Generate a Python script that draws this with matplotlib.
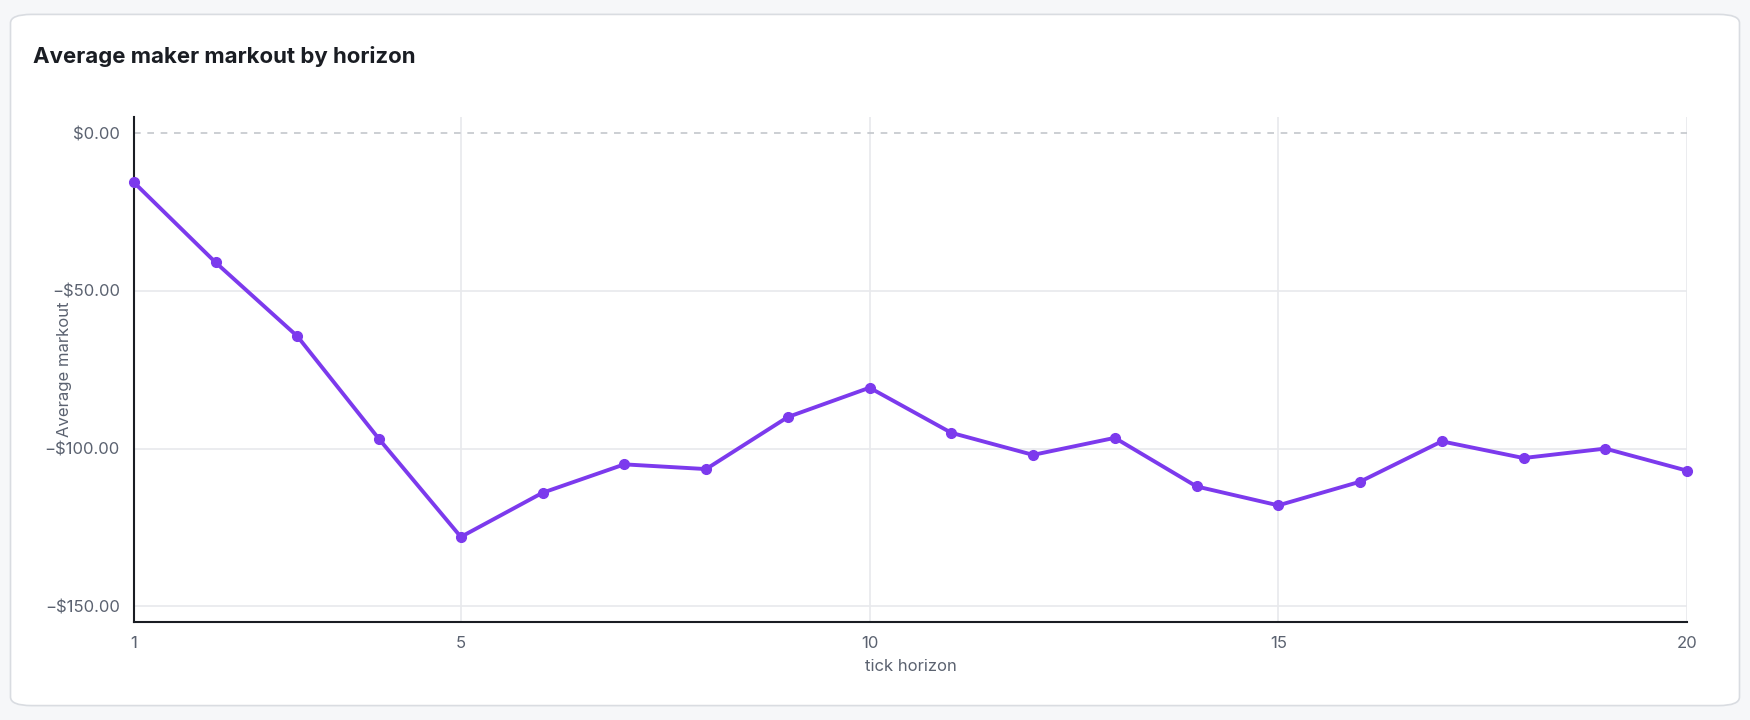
import matplotlib
matplotlib.use("Agg")
import matplotlib.pyplot as plt
from matplotlib.patches import FancyBboxPatch

horizons = list(range(1, 21))
markout = [-15.6, -41, -64.4, -97, -128, -114, -105, -106.5, -90, -80.7,
           -95, -102, -96.6, -112, -118, -110.5, -97.7, -103, -100, -107]
xticks = [1, 5, 10, 15, 20]
yticks = [0, -50, -100, -150]

plt.rcParams['font.family'] = ['Inter', 'DejaVu Sans']
fig = plt.figure(figsize=(17.5, 7.2), dpi=100)
fig.patch.set_facecolor('#f6f7f9')
card = FancyBboxPatch((0.006, 0.02), 0.988, 0.96, boxstyle="round,pad=0,rounding_size=0.012",
                      transform=fig.transFigure, facecolor='white', edgecolor='#d9dce1', lw=1.2,
                      zorder=-10)
fig.patches.append(card)
fig.text(0.019, 0.922, "Average maker markout by horizon", fontsize=16, fontweight='bold',
         color='#1a1d23', va='center')

ax = fig.add_axes([0.0765, 0.136, 0.8875, 0.701])
ax.set_zorder(5)
ax.patch.set_alpha(0)
ax.plot(horizons, markout, color='#7c3aed', lw=2.8, marker='o', ms=7, zorder=3, clip_on=False)
ax.axhline(0, color='#c4c7cc', lw=1.2, ls=(0, (4, 4)), zorder=1)
ax.set_xlim(1, 20)
ax.set_ylim(-155, 5)
ax.set_xticks(xticks)
ax.set_yticks(yticks)
ax.set_yticklabels(["$0.00" if v == 0 else "\u2212$%.2f" % abs(v) for v in yticks])
for v in xticks[1:]:
    ax.axvline(v, color='#e8e9ec', lw=1.2, zorder=0)
for v in yticks[1:]:
    ax.axhline(v, color='#e8e9ec', lw=1.2, zorder=0)
for s in ['top', 'right']:
    ax.spines[s].set_visible(False)
for s in ['left', 'bottom']:
    ax.spines[s].set_color('#1a1d23')
    ax.spines[s].set_linewidth(1.5)
ax.tick_params(colors='#5b6270', labelsize=12, length=0, pad=10)
ax.set_xlabel("tick horizon", fontsize=12, color='#5b6270', labelpad=6)
ax.set_ylabel("Average markout", fontsize=12, color='#5b6270')
ax.yaxis.set_label_coords(-0.04, 0.5)
fig.savefig("out.png", dpi=100, facecolor=fig.get_facecolor())
